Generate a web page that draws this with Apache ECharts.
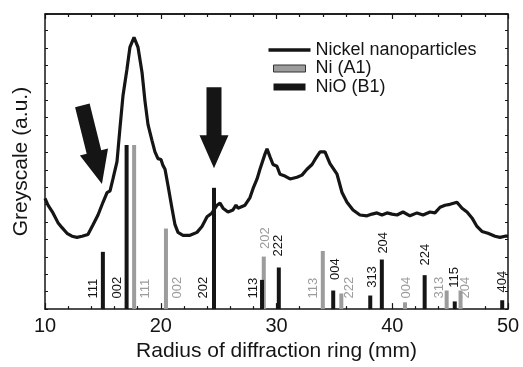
<!DOCTYPE html>
<html><head><meta charset="utf-8">
<script src="https://cdn.jsdelivr.net/npm/echarts@6/dist/echarts.min.js"></script>
<style>html,body{margin:0;padding:0;background:#fff}#c{width:523px;height:367px}</style>
</head><body><div id="c"></div>
<script>
// Measured curve (radius in mm, greyscale in a.u.)
const curveX = [10.00,10.26,10.69,11.12,11.47,11.90,12.33,12.76,13.20,13.71,14.15,14.58,15.01,15.36,15.62,15.87,16.22,16.48,16.74,17.08,17.34,17.69,18.03,18.38,18.64,18.90,19.24,19.50,19.76,20.02,20.19,20.37,20.63,20.97,21.23,21.49,21.92,22.53,23.13,23.56,24.00,24.43,24.86,25.12,25.38,25.81,26.24,26.50,26.67,27.28,27.71,27.97,28.32,28.57,29.01,29.18,29.44,29.70,30.04,30.30,30.73,31.17,31.77,32.20,32.63,33.07,33.33,33.76,34.19,34.62,35.23,35.66,36.09,36.61,37.21,37.82,38.25,38.68,39.11,39.55,39.98,40.41,40.93,41.53,42.14,42.66,43.26,43.69,44.13,44.56,44.99,45.59,46.03,46.46,46.89,47.32,47.75,48.27,48.88,49.31,49.74,50.00];
const curveY = [37.5,35.2,32.6,29.3,27.6,25.7,24.7,24.3,24.7,25.3,28.6,31.9,36.2,39.5,40.1,44.1,50.0,61.5,72.4,81.3,88.8,92.1,88.8,80.3,70.4,62.5,57.2,53.3,51.0,50.7,48.7,47.4,41.8,34.2,28.6,26.0,25.0,25.0,26.0,28.0,31.3,32.6,35.2,35.9,34.2,32.9,33.6,35.2,34.2,35.2,37.8,40.8,44.1,47.4,52.6,54.3,51.6,49.0,48.4,45.7,45.1,44.1,44.7,45.4,47.4,49.0,50.7,53.3,53.3,49.3,45.7,39.5,36.2,33.6,31.9,31.6,32.2,32.6,31.9,32.6,32.2,31.9,32.9,31.6,32.6,31.9,32.9,32.6,34.5,35.2,35.5,36.2,34.2,32.9,30.9,28.0,26.3,25.7,24.7,24.3,24.7,24.7];

// Ni (A1) reflections
const niX = [17.7, 20.45, 28.9, 34.0, 35.6, 41.1, 44.7, 45.9];
const niH = [55.6, 27.3, 17.8, 19.7, 5.3, 2.3, 6.3, 6.3];
const niLabels = ['111','002','202','113','222','004','313','204'];
const niLabelX = [18.64, 21.4, 29.0, 33.15, 36.3, 41.2, 44.05, 46.3];
const niLabelY = [3.6, 3.6, 20.4, 3.6, 3.6, 3.6, 3.6, 3.6];

// NiO (B1) reflections
const nioX = [15.0, 17.05, 24.6, 28.75, 30.2, 34.9, 38.1, 39.1, 42.8, 45.4, 49.5];
const nioH = [19.4, 55.6, 41.1, 9.9, 14.1, 6.3, 4.6, 16.8, 11.5, 2.6, 3.0];
const nioLabels = ['111','002','202','113','222','004','313','204','224','115','404'];
const nioLabelX = [14.15, 16.22, 23.65, 27.97, 30.2, 35.05, 38.25, 39.2, 42.9, 45.4, 49.5];
const nioLabelY = [3.6, 3.6, 3.6, 3.6, 17.8, 9.9, 7.2, 18.8, 14.8, 7.2, 5.6];

// Arrows: tip position (mm, a.u.) and tilt (deg)
const arrowX = [14.92, 24.6];
const arrowY = [42.4, 47.7];
const arrowTilt = [-14, 0];

const xTicks = [10, 20, 30, 40, 50];
const X_MIN = 10, X_MAX = 50, Y_MIN = 0, Y_MAX = 100;

const FONT = '"Liberation Sans", Arial, Helvetica, sans-serif';
const BLACK = '#151515';
const GREY = '#9c9c9c';

const chart = echarts.init(document.getElementById('c'));

function labelSeries(xs, ys, texts, color) {
  return {
    type: 'custom',
    coordinateSystem: 'cartesian2d',
    silent: true,
    z: 5,
    data: xs.map((x, i) => [x, ys[i]]),
    renderItem: function (params, api) {
      const p = api.coord([api.value(0), api.value(1)]);
      return {
        type: 'text',
        x: p[0], y: p[1],
        rotation: Math.PI / 2,
        style: {
          text: texts[params.dataIndex],
          fill: color,
          fontSize: 13,
          fontFamily: FONT,
          align: 'left',
          verticalAlign: 'middle'
        }
      };
    }
  };
}

const axisLineStyle = { show: true, onZero: false, lineStyle: { color: BLACK, width: 1.5 } };
const tickStyle = { inside: true, length: 6, lineStyle: { color: BLACK, width: 1.2 } };
const minorStyle = { show: true, splitNumber: 5, length: 3, lineStyle: { color: BLACK, width: 1.2 } };

chart.setOption({
  animation: false,
  grid: { left: 45, right: 15, top: 14, bottom: 50 },
  legend: {
    orient: 'vertical',
    left: 263,
    top: 36,
    itemWidth: 42,
    itemHeight: 7,
    itemGap: 0.5,
    textStyle: { fontSize: 18, fontFamily: FONT, color: BLACK, lineHeight: 17 },
    data: [
      { name: 'Nickel nanoparticles', icon: 'path://M0,0M42,7M0,1.8L42,1.8L42,5.2L0,5.2Z', itemStyle: { color: BLACK } },
      { name: 'Ni (A1)', icon: 'path://M0,0M42,7M5,0L37,0L37,7L5,7Z', itemStyle: { color: GREY, borderColor: '#333', borderWidth: 1 } },
      { name: 'NiO (B1)', icon: 'path://M0,0M42,7M5,0L37,0L37,7L5,7Z', itemStyle: { color: BLACK } }
    ]
  },
  xAxis: [
    {
      type: 'value', min: X_MIN, max: X_MAX, interval: 10, position: 'bottom',
      name: 'Radius of diffraction ring (mm)', nameLocation: 'middle', nameGap: 28,
      nameTextStyle: { fontSize: 21, fontFamily: FONT, color: BLACK },
      axisLine: axisLineStyle,
      axisTick: tickStyle,
      minorTick: minorStyle,
      axisLabel: { fontSize: 20, fontFamily: FONT, color: BLACK, margin: 7,
        formatter: v => (xTicks.indexOf(v) >= 0 ? String(v) : '') },
      splitLine: { show: false }
    },
    {
      type: 'value', min: X_MIN, max: X_MAX, interval: 10, position: 'top',
      axisLine: axisLineStyle,
      axisTick: { inside: true, length: 5, lineStyle: { color: BLACK, width: 1.2 } },
      minorTick: minorStyle,
      axisLabel: { show: false },
      splitLine: { show: false }
    }
  ],
  yAxis: [
    {
      type: 'value', min: Y_MIN, max: Y_MAX, interval: 5.9, position: 'left',
      name: 'Greyscale (a.u.)', nameLocation: 'middle', nameGap: 13,
      nameTextStyle: { fontSize: 21, fontFamily: FONT, color: BLACK },
      axisLine: axisLineStyle,
      axisTick: { show: true, inside: true, length: 3, lineStyle: { color: BLACK, width: 1 } },
      axisLabel: { show: false },
      splitLine: { show: false }
    },
    {
      type: 'value', min: Y_MIN, max: Y_MAX, interval: 5.9, position: 'right',
      axisLine: axisLineStyle,
      axisTick: { show: true, inside: true, length: 3, lineStyle: { color: BLACK, width: 1 } },
      axisLabel: { show: false },
      splitLine: { show: false }
    }
  ],
  graphic: [
    { type: 'line', z: 100, shape: { x1: 45, y1: 14, x2: 508, y2: 14 }, style: { stroke: BLACK, lineWidth: 1.5 } }
  ],
  series: [
    {
      name: 'Nickel nanoparticles',
      type: 'line',
      symbol: 'none',
      smooth: false,
      z: 3,
      lineStyle: { color: BLACK, width: 3.2 },
      itemStyle: { color: BLACK },
      data: curveX.map((x, i) => [x, curveY[i]])
    },
    {
      name: 'Ni (A1)',
      type: 'bar',
      barWidth: 4,
      barGap: '-100%',
      z: 4,
      itemStyle: { color: GREY },
      data: niX.map((x, i) => [x, niH[i]])
    },
    {
      name: 'NiO (B1)',
      type: 'bar',
      barWidth: 4,
      barGap: '-100%',
      z: 4,
      itemStyle: { color: BLACK },
      data: nioX.map((x, i) => [x, nioH[i]])
    },
    labelSeries(niLabelX, niLabelY, niLabels, GREY),
    labelSeries(nioLabelX, nioLabelY, nioLabels, BLACK),
    {
      type: 'custom',
      coordinateSystem: 'cartesian2d',
      silent: true,
      z: 6,
      data: arrowX.map((x, i) => [x, arrowY[i], arrowTilt[i]]),
      renderItem: function (params, api) {
        const tip = api.coord([api.value(0), api.value(1)]);
        const t = api.value(2) * Math.PI / 180;
        const L = 81, HL = 33, HW = 14.5, SW = 7.5;
        const local = [[-SW, -L], [SW, -L], [SW, -HL], [HW, -HL], [0, 0], [-HW, -HL], [-SW, -HL]];
        const c = Math.cos(t), s = Math.sin(t);
        const pts = local.map(([x, y]) => [tip[0] + x * c - y * s, tip[1] + x * s + y * c]);
        return { type: 'polygon', shape: { points: pts }, style: { fill: BLACK } };
      }
    }
  ]
});
</script></body></html>
